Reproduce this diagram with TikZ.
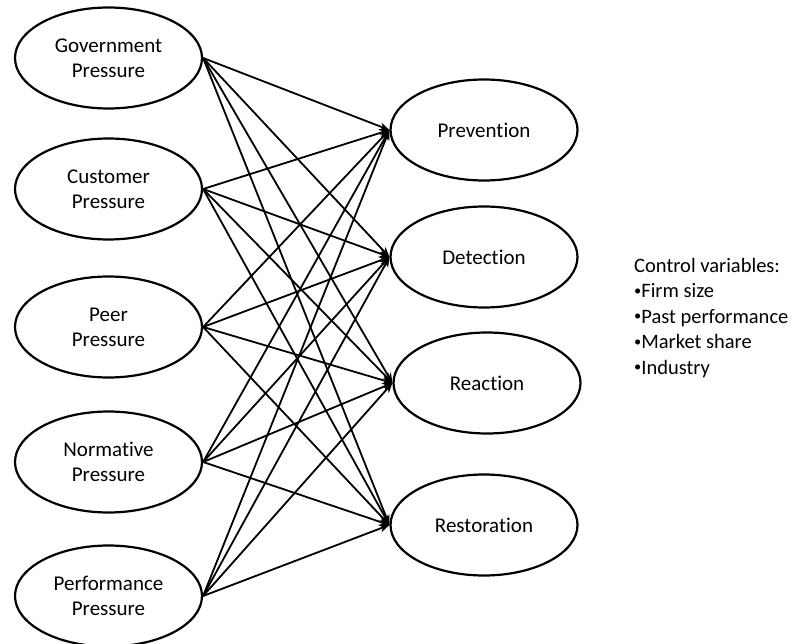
\documentclass[tikz,border=0pt]{standalone}
\usepackage{fontspec}
\setmainfont{Carlito}[Ligatures=NoCommon]
\usetikzlibrary{shapes.geometric,arrows.meta}
\newcommand{\blt}{\raisebox{0.12em}{\scalebox{0.7}{•}}}
\begin{document}
\begin{tikzpicture}[x=1pt,y=-1pt,
  construct/.style={ellipse,draw,line width=2.2pt,minimum width=187pt,minimum height=101pt,
    inner sep=0pt,align=center,font=\fontsize{21}{25}\selectfont},
  link/.style={line width=1.8pt,-{Stealth[length=10pt,width=8pt]}}]
\useasboundingbox (0,0) rectangle (794,644);
% antecedents
\node[construct] (gov)  at (108.5,58)  {Government\\Pressure};
\node[construct] (cust) at (108.5,189) {Customer\\Pressure};
\node[construct] (peer) at (108.5,327) {Peer\\Pressure};
\node[construct] (norm) at (108.5,462) {Normative\\Pressure};
\node[construct] (perf) at (108.5,596) {Performance\\Pressure};
% outcomes
\node[construct] (prev) at (484,130) {Prevention};
\node[construct] (det)  at (484,257) {Detection};
\node[construct] (reac) at (487,383) {Reaction};
\node[construct] (rest) at (484,525) {Restoration};
% every antecedent points to every outcome
\foreach \s in {gov,cust,peer,norm,perf}
  \foreach \t in {prev,det,reac,rest}
    \draw[link] (\s.east) -- (\t.west);
% controls (base anchor sits on the last line)
\node[anchor=base west,align=left,inner sep=0pt,font=\fontsize{20.5}{25.5}\selectfont] (ctrl) at (634,374)
  {Control variables:\\\blt Firm size\\\blt Past performance\\\blt Market share\\\blt Industry};
\end{tikzpicture}
\end{document}
